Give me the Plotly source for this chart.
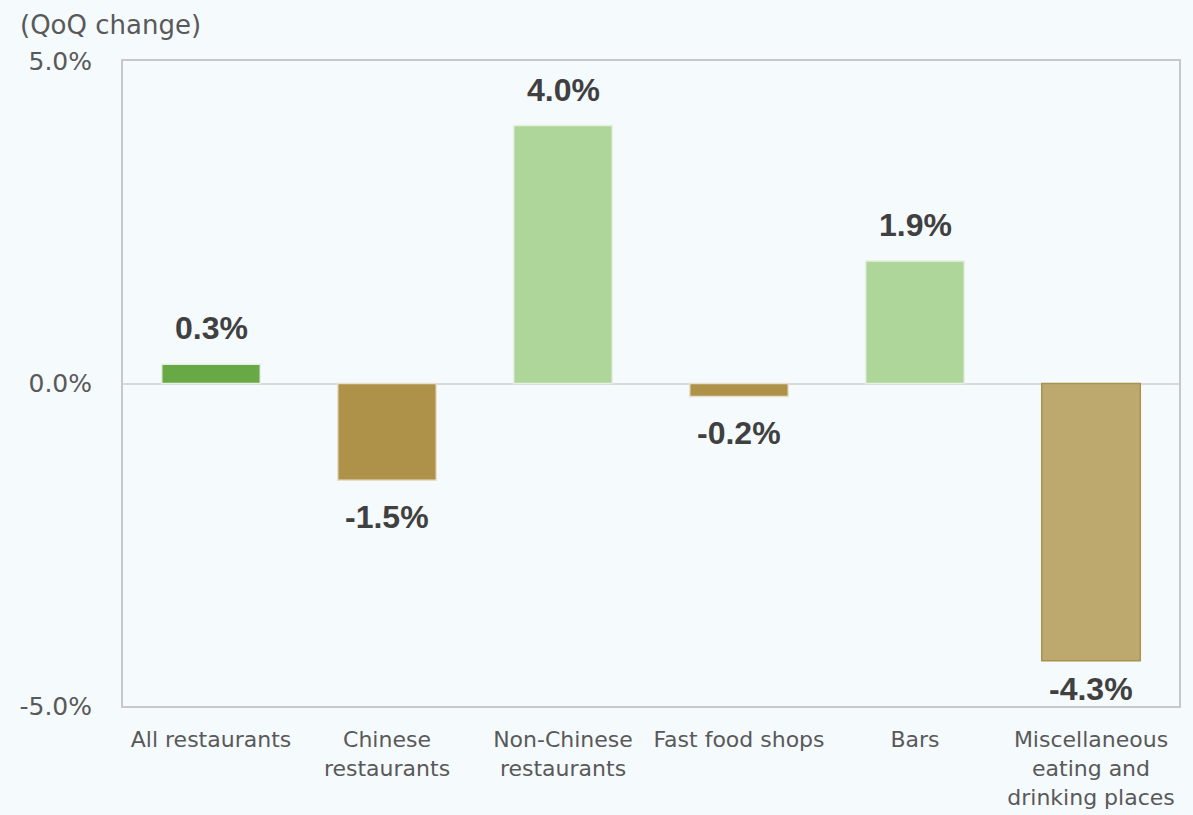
import plotly.graph_objects as go

categories = ["All restaurants", "Chinese<br>restaurants", "Non-Chinese<br>restaurants",
              "Fast food shops", "Bars", "Miscellaneous<br>eating and<br>drinking places"]
values = [0.3, -1.5, 4.0, -0.2, 1.9, -4.3]
colors = ["#68A945", "#AE9249", "#AED69B", "#AE9249", "#AED69B", "#BDA96D"]
line_colors = ["#E6F0E0", "#E8E0CC", "#E6F0E0", "#E8E0CC", "#E6F0E0", "#A8924F"]
labels = [f"{v:.1f}%" for v in values]
ytick_vals = [-5, 0, 5]
ytick_text = ["-5.0%", "0.0%", "5.0%"]

AXFONT = "DejaVu Sans, Verdana, sans-serif"

fig = go.Figure()
fig.add_trace(go.Bar(
    x=categories, y=values,
    marker=dict(color=colors, line=dict(color=line_colors, width=1.5)),
    width=0.56,
))

for c, v, t in zip(categories, values, labels):
    if v >= 0:
        ys = 16
    elif v < -4:
        ys = -8
    else:
        ys = -17
    fig.add_annotation(
        x=c, y=v, text=f"<b>{t}</b>", showarrow=False,
        yanchor="bottom" if v >= 0 else "top", yshift=ys,
        font=dict(family="Liberation Sans, Arial", size=32, color="#404040"),
    )

fig.add_annotation(text="(QoQ change)", xref="paper", yref="paper", x=-105/1056, y=1.0,
                   xanchor="left", yanchor="bottom", yshift=19,
                   showarrow=False, font=dict(family=AXFONT, size=26, color="#595959"))

fig.update_layout(
    width=1193, height=815,
    paper_bgcolor="#F5FAFD", plot_bgcolor="#F5FAFD",
    margin=dict(l=123, r=14, t=61, b=109),
    showlegend=False,
    font=dict(family=AXFONT, color="#595959"),
)
fig.update_xaxes(showline=True, linecolor="#C8C8C8", linewidth=2, mirror=True,
                 tickfont=dict(size=22, color="#595959"), showgrid=False, ticks="",
                 ticklabelstandoff=13, automargin=False)
fig.update_yaxes(range=[-5, 5], tickvals=ytick_vals, ticktext=ytick_text,
                 showline=True, linecolor="#C8C8C8", linewidth=2, mirror=True,
                 showgrid=False, zeroline=True, zerolinecolor="#D9D9D9", zerolinewidth=2,
                 tickfont=dict(size=25, color="#595959"), ticklabelstandoff=24,
                 automargin=False)

fig.write_html("out.html")
